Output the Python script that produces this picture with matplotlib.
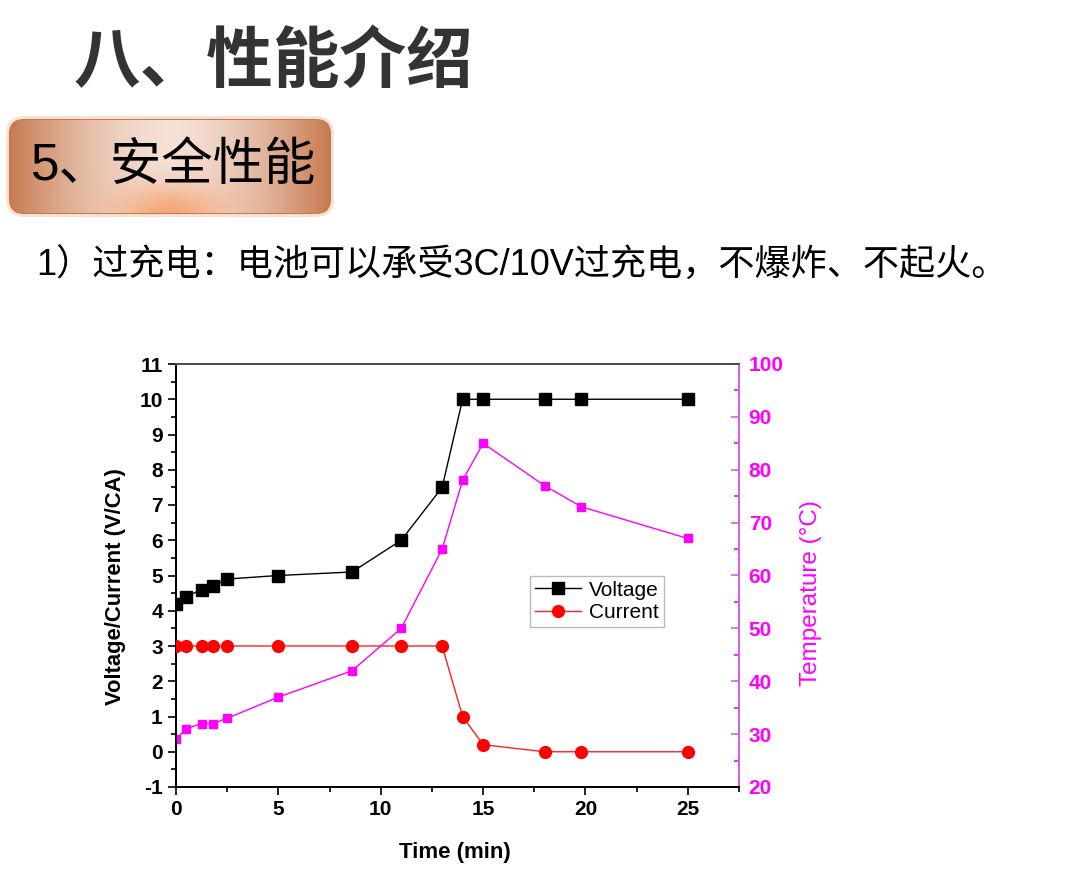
import numpy as np
import matplotlib
matplotlib.use('Agg')
import matplotlib.pyplot as plt
from matplotlib.patches import FancyBboxPatch
from matplotlib.ticker import MultipleLocator


# data
time_v = [0, 0.5, 1.25, 1.8, 2.5, 5, 8.6, 11, 13, 14, 15, 18, 19.8, 25]
voltage = [4.2, 4.4, 4.6, 4.7, 4.9, 5.0, 5.1, 6.0, 7.5, 10, 10, 10, 10, 10]
current = [3, 3, 3, 3, 3, 3, 3, 3, 3, 1.0, 0.2, 0, 0, 0]
temperature = [29, 31, 32, 32, 33, 37, 42, 50, 65, 78, 85, 77, 73, 67]

title = '八、性能介绍'
subtitle = '5、安全性能'
note = '1）过充电：电池可以承受3C/10V过充电，不爆炸、不起火。'

cjk = ['Noto Sans CJK SC', 'DejaVu Sans']
mixed = ['Liberation Sans', 'Noto Sans CJK SC', 'DejaVu Sans']
latin = ['Liberation Sans', 'DejaVu Sans']
magenta = '#ff00ff'

plt.rcParams['axes.unicode_minus'] = False

fig = plt.figure(figsize=(10.8, 8.84), dpi=100)

# background layer in pixel coordinates for the slide header
bg = fig.add_axes([0, 0, 1, 1])
bg.set_xlim(0, 1080)
bg.set_ylim(884, 0)
bg.axis('off')

bg.text(74, 62, title, family=cjk, fontsize=48, fontweight='bold',
        color='#333333', va='center', ha='left')

# copper gradient box
x0, y0, w, h = 10, 120, 320, 93
halo = FancyBboxPatch((x0 - 4, y0 - 4), w + 8, h + 8,
                      boxstyle='round,pad=0,rounding_size=18',
                      fc='#f3c7a8', ec='none', alpha=0.5)
bg.add_patch(halo)
box = FancyBboxPatch((x0, y0), w, h, boxstyle='round,pad=0,rounding_size=14',
                     fc='none', ec='#c47a4e', lw=1.5)
bg.add_patch(box)
xx, yy = np.meshgrid(np.linspace(x0, x0 + w, 320), np.linspace(y0, y0 + h, 93))
u = np.abs((xx - (x0 + w / 2)) / (w / 2))
edge = np.array([0.78, 0.48, 0.31])
centre = np.array([0.96, 0.88, 0.84])
t = (1 - u ** 1.6)[..., None]
img = edge + (centre - edge) * t
glow = np.exp(-((xx - 170) ** 2 / 55 ** 2 + (yy - (y0 + h)) ** 2 / 28 ** 2))[..., None]
img = img * (1 - glow) + np.array([0.96, 0.66, 0.48]) * glow
im = bg.imshow(img, extent=(x0, x0 + w, y0 + h, y0), zorder=1)
im.set_clip_path(box)
bg.text(31, 166, subtitle, family=mixed, fontsize=37, color='black',
        va='center', ha='left', zorder=3)

bg.text(36, 266, note, family=mixed, fontsize=26, color='black',
        va='center', ha='left')

# chart
ax = fig.add_axes([176 / 1080, 1 - 787 / 884, (739 - 176) / 1080, (787 - 364) / 884])
ax2 = ax.twinx()

ax.plot(time_v, voltage, color='black', lw=1, marker='s', ms=8, label='Voltage', zorder=4)
ax.plot(time_v, current, color='#ff2020', lw=1, marker='o', ms=8.5,
        mfc='#ff0000', mec='#ff0000', label='Current', zorder=3)
ax2.plot(time_v, temperature, color=magenta, lw=1, marker='s', ms=5.5)

ax.set_xlim(0, 27.5)
ax.set_ylim(-1, 11)
ax2.set_ylim(20, 100)
ax.set_zorder(ax2.get_zorder() + 1)
ax.patch.set_visible(False)

ax.xaxis.set_major_locator(MultipleLocator(5))
ax.xaxis.set_minor_locator(MultipleLocator(2.5))
ax.yaxis.set_major_locator(MultipleLocator(1))
ax.yaxis.set_minor_locator(MultipleLocator(0.5))
ax2.yaxis.set_major_locator(MultipleLocator(10))
ax2.yaxis.set_minor_locator(MultipleLocator(5))

ax.tick_params(axis='both', which='major', direction='out', length=6, width=1.2,
               labelsize=15)
ax.tick_params(axis='both', which='minor', direction='out', length=3.5, width=1.2)
ax.tick_params(axis='y', right=False)
ax2.tick_params(axis='y', which='major', direction='in', length=6, width=1.2,
                colors=magenta, labelsize=15, pad=7)
ax2.tick_params(axis='y', which='minor', direction='in', length=3.5, width=1.2,
                colors=magenta)
ax2.tick_params(axis='y', color='#cc66dd')

for lab in ax.get_xticklabels() + ax.get_yticklabels() + ax2.get_yticklabels():
    lab.set_family(latin)
    lab.set_fontweight('bold')

for s in ['left', 'bottom', 'top']:
    ax.spines[s].set_linewidth(1.3)
    ax2.spines[s].set_linewidth(1.3)
ax.spines['top'].set_color('#555555')
ax2.spines['right'].set_color('#cc66dd')
ax2.spines['right'].set_linewidth(1.5)
ax.spines['right'].set_visible(False)

ax.set_xlabel('Time (min)', family=latin, fontsize=16, fontweight='bold')
ax.xaxis.set_label_coords(0.495, -0.13)
ax.set_ylabel('Voltage/Current (V/CA)', family=latin, fontsize=15.8, fontweight='bold')
ax.yaxis.set_label_coords(-0.088, 0.473)
ax2.set_ylabel('Temperature (°C)', family=latin, fontsize=17.5, color=magenta)
ax2.yaxis.set_label_coords(1.108, 0.459)

leg = ax.legend(loc='upper left', bbox_to_anchor=(0.628, 0.5), prop={'family': latin, 'size': 15},
                fancybox=False, edgecolor='#aaaaaa', handlelength=2.2, borderpad=0.25,
                labelspacing=0.15, handletextpad=0.4, borderaxespad=0)
leg.get_frame().set_linewidth(1)

fig.savefig('out.png', dpi=100)
